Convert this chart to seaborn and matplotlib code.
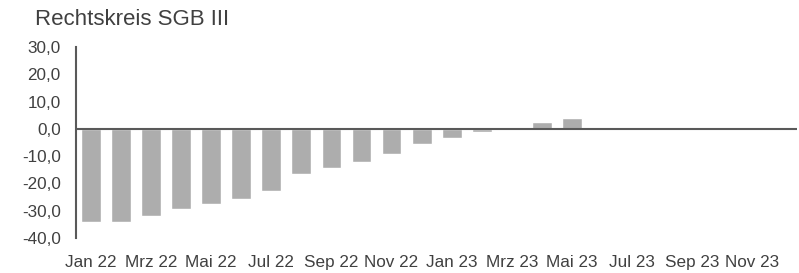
import numpy as np
import pandas as pd
import matplotlib
matplotlib.use("Agg")
import matplotlib.pyplot as plt
import seaborn as sns
from matplotlib.ticker import FuncFormatter

# ==========================================
# DATA
# ==========================================
months = ["Jan 22", "Feb 22", "Mrz 22", "Apr 22", "Mai 22", "Jun 22",
          "Jul 22", "Aug 22", "Sep 22", "Okt 22", "Nov 22", "Dez 22",
          "Jan 23", "Feb 23", "Mrz 23", "Apr 23", "Mai 23", "Jun 23",
          "Jul 23", "Aug 23", "Sep 23", "Okt 23", "Nov 23", "Dez 23"]
values = [-34.0, -34.0, -32.0, -29.5, -27.5, -25.8,
          -22.6, -16.6, -14.5, -12.0, -9.2, -5.6,
          -3.4, -1.2, 0.0, 2.6, 3.9, np.nan,
          np.nan, np.nan, np.nan, np.nan, np.nan, np.nan]
tick_labels = months[::2]
title = "Rechtskreis SGB III"

df = pd.DataFrame({"Monat": months, "Wert": values})

# ==========================================
# PLOT
# ==========================================
sns.set_style("white")
plt.rcParams['font.family'] = ['Liberation Sans', 'DejaVu Sans']

fig = plt.figure(figsize=(7.99, 2.73), dpi=100)
ax = fig.add_axes([0.095, 0.128, 0.903, 0.700])

sns.barplot(data=df, x="Monat", y="Wert", order=months, color="#ADADAD",
            saturation=1, width=0.66, ax=ax)

ax.axhline(0, color="#595959", lw=1.5, zorder=3)
ax.set_ylim(-40, 30)
ax.set_xlim(-0.5, len(months) - 0.5)
ax.set_yticks(range(-40, 31, 10))
ax.yaxis.set_major_formatter(FuncFormatter(lambda v, p: f"{v:.1f}".replace(".", ",")))
ax.set_xticks(range(0, len(months), 2))
ax.set_xticklabels(tick_labels)

ax.tick_params(axis="both", length=0, labelsize=12.3, labelcolor="#404040")
ax.tick_params(axis="x", pad=12)
ax.tick_params(axis="y", pad=11)
ax.set_xlabel("")
ax.set_ylabel("")

for s in ["top", "right", "bottom"]:
    ax.spines[s].set_visible(False)
ax.spines["left"].set_color("#595959")
ax.spines["left"].set_linewidth(1.5)

fig.text(0.044, 0.93, title, fontsize=16, color="#404040", va="center", ha="left")

plt.savefig("out.png", dpi=100)
